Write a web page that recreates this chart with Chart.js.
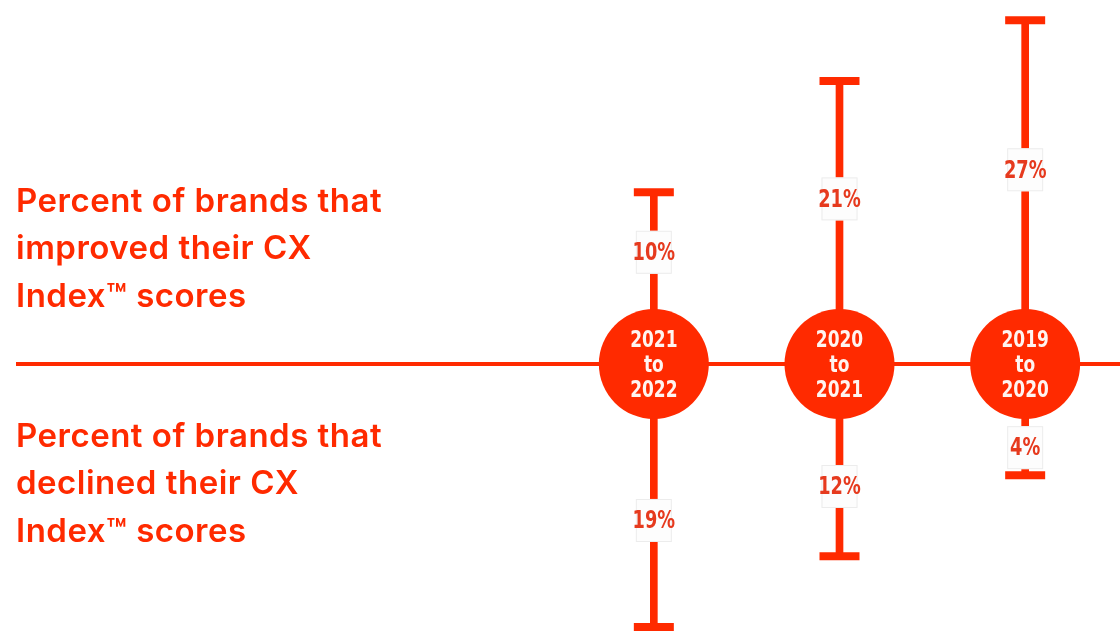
<!DOCTYPE html>
<html lang="en">
<head>
  <meta charset="UTF-8" />
  <title>CX Index score changes</title>
  <script src="https://cdn.jsdelivr.net/npm/chart.js"></script>
  <style>
    html, body { margin: 0; padding: 0; background: #fff; }
    #wrap { position: relative; width: 1120px; height: 631px; }
  </style>
</head>
<body>
  <div id="wrap"><canvas id="cxChart" width="1120" height="631"></canvas></div>

  <script>
    // data
    const periods = [['2021', 'to', '2022'], ['2020', 'to', '2021'], ['2019', 'to', '2020']];
    const improved = [10, 21, 27];
    const declined = [19, 12, 4];
    const upperText = ['Percent of brands that', 'improved their CX', 'Index\u2122 scores'];
    const lowerText = ['Percent of brands that', 'declined their CX', 'Index\u2122 scores'];

    const RED = '#ff2a00';
    const GAP = 7; // circle radius, in axis units (whiskers start past the circle)
    const labels = periods.map(p => p.join(' '));

    const upEnds = improved.map(v => GAP + v);
    const downEnds = declined.map(v => -(GAP + v));

    // condensed look: squeeze a bold face horizontally
    function narrowText(ctx, text, x, y, size) {
      ctx.save();
      ctx.font = 'bold ' + size + 'px "DejaVu Sans", sans-serif';
      ctx.translate(x, y);
      ctx.scale(0.74, 1);
      ctx.fillText(text, 0, 0);
      ctx.restore();
    }

    // draws circle text, value boxes, the baseline and the side text
    const decor = {
      id: 'decor',
      beforeDatasetsDraw(chart) {
        const { ctx, scales: { y } } = chart;
        const y0 = y.getPixelForValue(0);
        ctx.save();
        ctx.strokeStyle = RED;
        ctx.lineWidth = 4;
        ctx.beginPath();
        ctx.moveTo(16, y0);
        ctx.lineTo(chart.width, y0);
        ctx.stroke();
        ctx.restore();
      },
      afterDatasetsDraw(chart) {
        const { ctx, scales: { x, y } } = chart;
        ctx.save();
        ctx.textAlign = 'center';
        ctx.textBaseline = 'middle';

        periods.forEach((p, i) => {
          const cx = x.getPixelForValue(i);
          const cy = y.getPixelForValue(0);
          ctx.fillStyle = '#fff4f0';
          p.forEach((line, k) => narrowText(ctx, line, cx, cy + (k - 1) * 25 + 2, 23));

          const boxes = [
            [improved[i], 6.3 + improved[i] * 0.48],
            [declined[i], -(6.3 + declined[i] * 0.48)]
          ];
          boxes.forEach(([v, pos]) => {
            const by = y.getPixelForValue(pos);
            ctx.fillStyle = '#fdfdfd';
            ctx.fillRect(cx - 18, by - 21, 36, 43);
            ctx.strokeStyle = '#ececec';
            ctx.lineWidth = 1;
            ctx.strokeRect(cx - 18 + 0.5, by - 21 + 0.5, 35, 42);
            ctx.fillStyle = '#e63a1e';
            narrowText(ctx, v + '%', cx, by + 2, 24);
          });
        });

        ctx.textAlign = 'left';
        ctx.fillStyle = RED;
        ctx.font = '600 33px Inter, "Open Sans", sans-serif';
        ctx.letterSpacing = '0.5px';
        upperText.forEach((t, k) => ctx.fillText(t, 16, 202 + k * 47.5));
        lowerText.forEach((t, k) => ctx.fillText(t, 16, 437 + k * 47.5));
        ctx.restore();
      }
    };

    const capStyle = {
      type: 'line',
      showLine: false,
      pointStyle: 'line',
      pointRadius: 20,
      pointBorderWidth: 8,
      borderColor: RED,
      backgroundColor: RED,
      order: 2
    };

    new Chart(document.getElementById('cxChart'), {
      type: 'bar',
      data: {
        labels,
        datasets: [
          {
            label: 'Improved',
            data: upEnds.map(v => [0, v]),
            backgroundColor: RED,
            barThickness: 7,
            grouped: false,
            order: 3
          },
          {
            label: 'Declined',
            data: downEnds.map(v => [v, 0]),
            backgroundColor: RED,
            barThickness: 7,
            grouped: false,
            order: 3
          },
          Object.assign({ label: 'Improved cap', data: upEnds }, capStyle),
          Object.assign({ label: 'Declined cap', data: downEnds }, capStyle),
          {
            type: 'line',
            label: 'Periods',
            data: labels.map(() => 0),
            showLine: false,
            pointStyle: 'circle',
            pointRadius: 55,
            pointBorderWidth: 0,
            backgroundColor: RED,
            borderColor: RED,
            order: 1
          }
        ]
      },
      options: {
        responsive: false,
        animation: false,
        clip: false,
        layout: { autoPadding: false, padding: { left: 561, right: 2, top: 0, bottom: 0 } },
        plugins: { legend: { display: false }, tooltip: { enabled: false } },
        scales: {
          x: { display: false, grid: { display: false } },
          y: { display: false, min: -26.4, max: 36.0, grid: { display: false } }
        }
      },
      plugins: [decor]
    });
  </script>
</body>
</html>
